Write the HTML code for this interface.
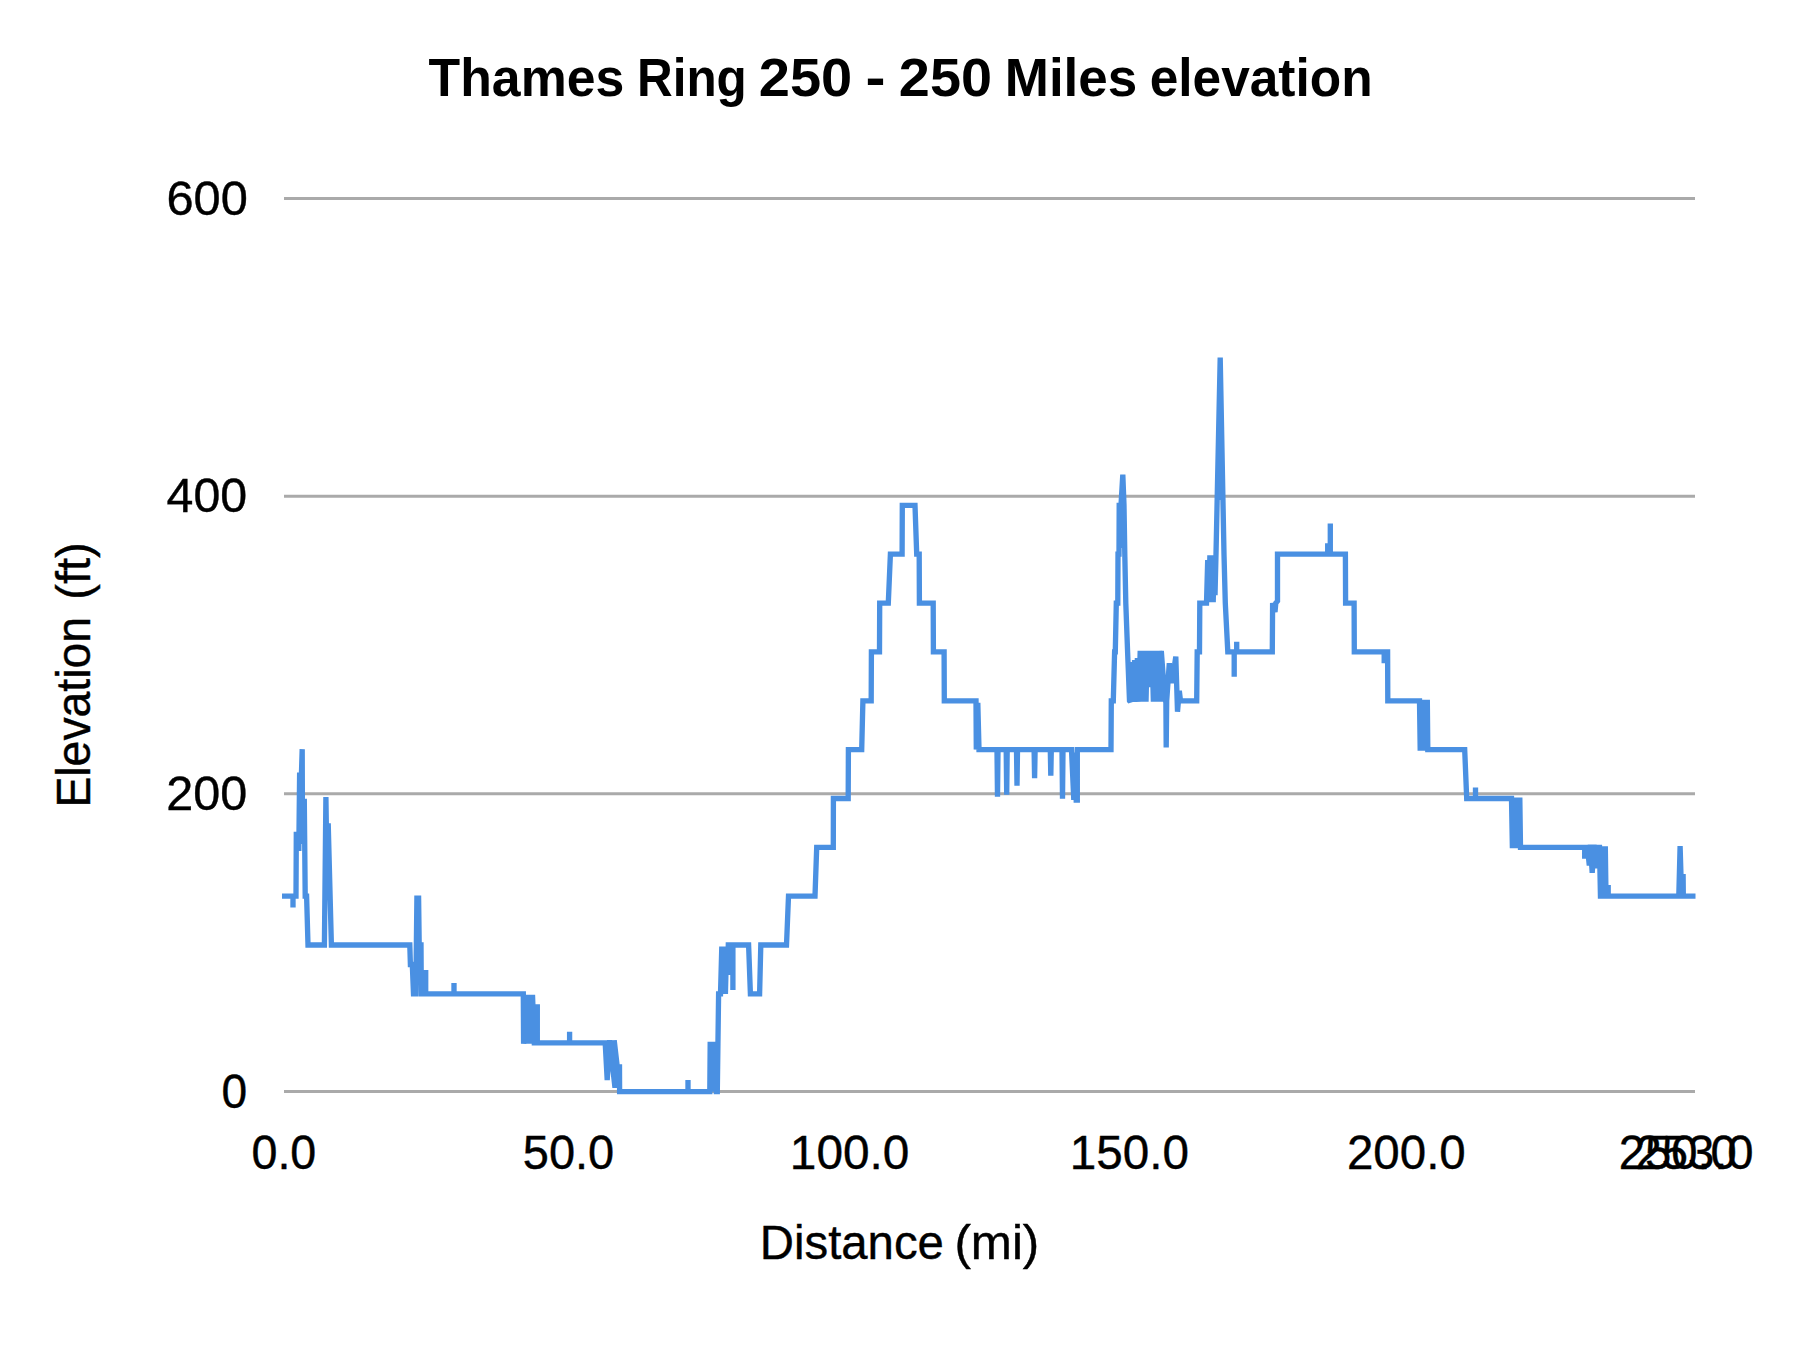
<!DOCTYPE html>
<html lang="en">
<head>
<meta charset="utf-8">
<title>Thames Ring 250 - 250 Miles elevation</title>
<style>
html,body{margin:0;padding:0;background:#fff;}
body{width:1800px;height:1350px;overflow:hidden;}
svg{display:block;}
text{font-family:"Liberation Sans",sans-serif;fill:#000;}
</style>
</head>
<body>
<svg width="1800" height="1350" viewBox="0 0 1800 1350">
<rect x="0" y="0" width="1800" height="1350" fill="#ffffff"/>
<g stroke="#aaaaaa" stroke-width="3" fill="none">
<line x1="284" y1="198.5" x2="1695" y2="198.5"/>
<line x1="284" y1="496.2" x2="1695" y2="496.2"/>
<line x1="284" y1="793.8" x2="1695" y2="793.8"/>
<line x1="284" y1="1091.4" x2="1695" y2="1091.4"/>
</g>
<path d="M282.0,896.2 L293.0,896.2 L293.0,907.5 L293.0,896.2 L296.0,896.2 L296.3,834.5 L298.4,834.5 L298.8,851.0 L299.6,775.2 L301.4,775.2 L302.2,749.2 L302.5,844.0 L303.6,801.5 L304.3,801.5 L305.2,896.2 L306.6,896.2 L308.0,945.0 L324.4,945.0 L325.9,797.0 L327.4,898.0 L328.2,823.3 L331.4,945.0 L409.8,945.0 L410.4,964.5 L412.3,964.5 L413.5,993.9 L415.8,993.9 L416.9,898.2 L418.6,898.2 L419.2,945.0 L421.0,945.0 L421.3,993.9 L425.7,993.9 L425.7,970.0 L425.7,993.9 L454.0,993.9 L454.0,983.0 L454.0,993.9 L523.3,993.9 L523.6,1043.8 L525.0,994.9 L526.2,1043.8 L527.5,994.9 L528.8,1043.8 L530.0,994.9 L531.2,1043.8 L532.5,994.9 L534.3,1042.8 L537.3,1042.8 L537.3,1004.2 L537.3,1042.8 L569.6,1042.8 L569.6,1031.7 L569.6,1042.8 L605.2,1042.8 L607.2,1080.0 L609.6,1040.2 L615.0,1087.8 L614.2,1040.2 L617.3,1067.0 L619.5,1067.0 L619.6,1091.6 L688.0,1091.6 L688.0,1080.0 L688.0,1091.6 L709.8,1091.6 L710.2,1041.8 L711.5,1091.6 L712.8,1041.8 L714.1,1091.6 L715.2,1041.8 L716.3,1091.6 L717.3,1091.6 L718.6,993.9 L720.5,993.9 L721.8,946.5 L723.0,993.9 L724.2,946.5 L725.4,993.9 L726.6,946.5 L727.6,975.0 L728.3,945.0 L732.9,945.0 L732.9,990.0 L732.9,945.0 L748.6,945.0 L750.4,993.9 L759.6,993.9 L760.8,945.0 L786.5,945.0 L788.5,896.2 L815.0,896.2 L816.7,847.3 L833.3,847.3 L833.4,798.5 L848.2,798.5 L848.4,749.6 L861.7,749.6 L862.9,700.8 L871.2,700.8 L871.4,651.9 L879.5,651.9 L879.7,603.1 L888.3,603.1 L890.4,554.2 L902.1,554.2 L902.3,505.4 L915.0,505.4 L916.7,554.2 L919.2,554.2 L919.4,603.1 L933.2,603.1 L933.4,651.9 L944.1,651.9 L944.3,700.8 L976.0,700.8 L976.3,749.6 L977.8,702.8 L979.0,749.6 L997.0,749.6 L997.5,796.7 L998.0,749.6 L1006.2,749.6 L1006.7,794.7 L1007.2,749.6 L1016.5,749.6 L1017.0,785.8 L1017.5,749.6 L1034.1,749.6 L1034.6,778.3 L1035.1,749.6 L1050.3,749.6 L1050.8,775.8 L1051.3,749.6 L1062.0,749.6 L1062.5,798.8 L1063.0,749.6 L1071.5,749.6 L1073.8,800.0 L1075.0,752.6 L1076.2,800.0 L1077.3,800.0 L1077.3,749.6 L1111.0,749.6 L1111.3,700.8 L1113.3,700.8 L1114.6,651.9 L1115.3,651.9 L1116.3,603.1 L1117.8,603.1 L1118.0,554.2 L1119.0,554.2 L1119.2,505.4 L1121.0,505.4 L1122.8,474.7 L1122.2,548.0 L1122.8,474.7 L1124.0,505.4 L1124.8,554.2 L1125.8,603.1 L1127.6,651.9 L1129.5,700.8 L1130.3,701.8 L1131.8,662.0 L1133.2,701.8 L1134.6,660.0 L1136.0,701.8 L1137.4,658.0 L1138.8,701.8 L1140.2,650.9 L1141.5,701.8 L1142.8,650.9 L1144.1,701.8 L1145.4,650.9 L1146.0,701.8 L1147.2,650.9 L1149.5,687.0 L1152.0,650.9 L1153.4,701.8 L1154.7,650.9 L1156.0,701.8 L1157.2,650.9 L1158.5,701.8 L1159.7,650.9 L1161.0,701.8 L1161.3,650.9 L1164.2,690.0 L1165.9,702.8 L1166.2,747.5 L1166.7,700.8 L1169.3,663.3 L1172.0,683.0 L1175.8,656.7 L1177.5,711.7 L1179.3,690.8 L1180.5,700.8 L1196.7,700.8 L1197.2,651.9 L1199.5,651.9 L1199.8,603.1 L1206.5,603.1 L1207.7,560.0 L1208.8,602.1 L1209.9,555.2 L1211.0,602.1 L1212.1,555.2 L1213.2,602.1 L1214.2,555.2 L1215.0,595.1 L1216.0,554.2 L1220.2,357.5 L1220.3,500.0 L1220.2,357.5 L1224.0,554.2 L1225.3,603.1 L1227.8,651.9 L1234.2,651.9 L1234.2,676.7 L1234.2,651.9 L1236.7,651.9 L1236.7,641.7 L1236.7,651.9 L1272.3,651.9 L1272.6,603.1 L1275.0,612.0 L1275.8,603.1 L1277.5,601.1 L1277.5,554.2 L1327.7,554.2 L1327.7,543.3 L1327.7,554.2 L1330.3,554.2 L1330.3,523.6 L1330.3,554.2 L1345.4,554.2 L1345.6,603.1 L1354.1,603.1 L1354.3,651.9 L1384.2,651.9 L1384.2,663.3 L1384.2,651.9 L1387.6,651.9 L1387.8,700.8 L1419.5,700.8 L1420.2,750.6 L1421.2,699.8 L1422.2,750.6 L1423.2,699.8 L1424.3,750.6 L1425.3,699.8 L1426.3,750.6 L1427.3,699.8 L1427.8,749.6 L1464.7,749.6 L1466.7,798.5 L1475.5,798.5 L1475.5,787.5 L1475.5,798.5 L1511.5,798.5 L1512.4,848.3 L1513.5,797.5 L1514.5,848.3 L1515.6,797.5 L1516.6,848.3 L1517.7,797.5 L1518.7,848.3 L1519.8,797.5 L1520.5,847.3 L1584.7,847.3 L1584.7,856.2 L1585.6,856.2 L1585.6,847.3 L1587.5,847.3 L1589.3,865.5 L1590.4,844.7 L1592.2,872.8 L1594.0,844.7 L1595.5,868.3 L1596.6,847.3 L1599.5,847.3 L1600.5,898.8 L1601.5,846.3 L1602.4,898.8 L1603.4,846.3 L1604.3,898.8 L1605.3,846.3 L1606.0,896.2 L1608.2,896.2 L1608.2,885.0 L1608.2,896.2 L1678.8,896.2 L1680.1,846.1 L1681.6,896.2 L1683.1,873.9 L1683.3,896.2 L1695.5,896.2" fill="none" stroke="#4a90e2" stroke-width="5.33" stroke-linejoin="miter" stroke-miterlimit="1.5" stroke-linecap="butt"/>
<text y="95.9" font-size="53" font-weight="bold"><tspan x="428.61" textLength="195.65" lengthAdjust="spacingAndGlyphs">Thames</tspan> <tspan x="636.99" textLength="109.81" lengthAdjust="spacingAndGlyphs">Ring</tspan> <tspan x="758.85" textLength="93.43" lengthAdjust="spacingAndGlyphs">250</tspan> <tspan x="865.42" textLength="20.0" lengthAdjust="spacingAndGlyphs">-</tspan> <tspan x="898.86" textLength="93.12" lengthAdjust="spacingAndGlyphs">250</tspan> <tspan x="1004.75" textLength="132.56" lengthAdjust="spacingAndGlyphs">Miles</tspan> <tspan x="1149.66" textLength="222.93" lengthAdjust="spacingAndGlyphs">elevation</tspan></text>
<g font-size="48" stroke="#000" stroke-width="0.4">
<text x="166.49" y="214.7" textLength="81.33" lengthAdjust="spacingAndGlyphs">600</text>
<text x="166.61" y="511.9" textLength="80.59" lengthAdjust="spacingAndGlyphs">400</text>
<text x="166.29" y="809.9" textLength="80.92" lengthAdjust="spacingAndGlyphs">200</text>
<text x="221.48" y="1107.9" textLength="25.66" lengthAdjust="spacingAndGlyphs">0</text>
<text x="251.46" y="1168.8" textLength="64.83" lengthAdjust="spacingAndGlyphs">0.0</text>
<text x="522.79" y="1168.8" textLength="91.45" lengthAdjust="spacingAndGlyphs">50.0</text>
<text x="789.86" y="1168.8" textLength="119.56" lengthAdjust="spacingAndGlyphs">100.0</text>
<text x="1069.87" y="1168.8" textLength="119.14" lengthAdjust="spacingAndGlyphs">150.0</text>
<text x="1346.99" y="1168.8" textLength="118.71" lengthAdjust="spacingAndGlyphs">200.0</text>
<text x="1618.71" y="1168.8" textLength="118.09" lengthAdjust="spacingAndGlyphs">250.0</text>
<text x="1635.41" y="1168.8" textLength="118.09" lengthAdjust="spacingAndGlyphs">253.0</text>
<text y="1258.7"><tspan x="759.82" textLength="184.06" lengthAdjust="spacingAndGlyphs">Distance</tspan> <tspan x="954.42" textLength="84.86" lengthAdjust="spacingAndGlyphs">(mi)</tspan></text>
<text transform="translate(90,803.8) rotate(-90)" y="0"><tspan x="-3.8" textLength="190.64" lengthAdjust="spacingAndGlyphs">Elevation</tspan> <tspan x="204.16" textLength="57.39" lengthAdjust="spacingAndGlyphs">(ft)</tspan></text>
</g>

</svg>
</body>
</html>
